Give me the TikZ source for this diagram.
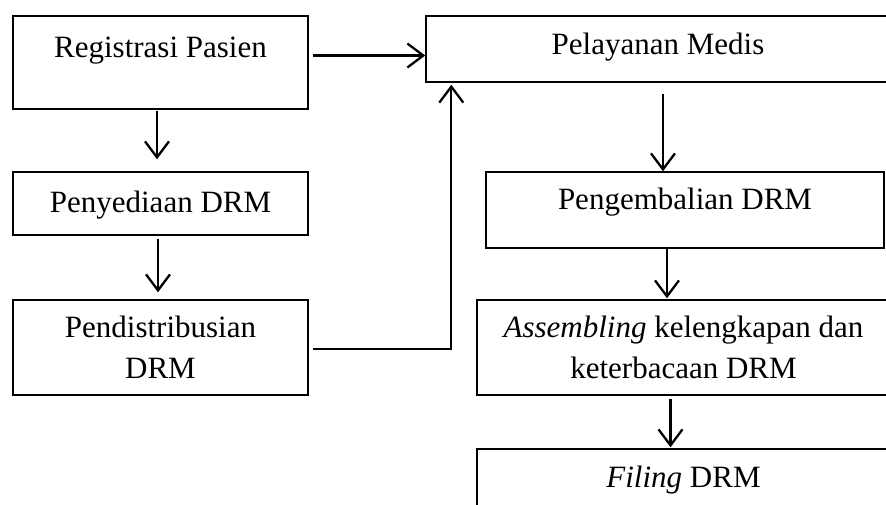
\documentclass[tikz,border=0pt]{standalone}
\usepackage{fontspec}
\setmainfont{Liberation Serif}
\usetikzlibrary{arrows.meta}
\usetikzlibrary{calc}

\tikzset{
	box/.style={draw, line width=1.4pt, align=center, inner sep=0pt},
	arr/.style={-{Straight Barb[length=16pt,width=24pt]}, line width=2.3pt},
}

\begin{document}
\begin{tikzpicture}[x=1pt, y=-1pt, font=\fontsize{31}{41}\selectfont]
	\path[use as bounding box, clip] (0,0) rectangle (886,505);
	
	% left column
	\node[box, minimum width=295, minimum height=93, text height=21, text depth=30] (reg) at (160.5,62.5) {Registrasi Pasien};
	\node[box, minimum width=295, minimum height=63, text height=22, text depth=5] (sedia) at (160.5,203.5) {Penyediaan DRM};
	\node[box, minimum width=295, minimum height=95] (dist) at (160.5,347.5) {Pendistribusian\\DRM};
	
	% right column
	\node[box, minimum width=464, minimum height=66, text height=21, text depth=9] (pel) at (658,49) {Pelayanan Medis};
	\node[box, minimum width=398, minimum height=76, text height=21, text depth=21] (kembali) at (685,210) {Pengembalian DRM};
	\node[box, minimum width=413, minimum height=95] (asm) at (683.5,347.5) {\textit{Assembling} kelengkapan dan\\keterbacaan DRM};
	\node[box, minimum width=413, minimum height=76, text height=20, text depth=20] (filing) at (683.5,487) {\textit{Filing} DRM};
	
	\draw[arr] ($(reg.east)+(4,-7)$) -- ($(reg.east -| pel.west)+(0,-7)$);
	\draw[arr] ($(reg.south)+(-3.5,1)$) -- ($(sedia.north)+(-3.5,-12)$);
	\draw[arr] ($(sedia.south)+(-2.5,3)$) -- ($(dist.north)+(-2.5,-7)$);
	\draw[arr] ($(dist.east)+(4,1.5)$) -| ($(pel.south west)+(26,2)$);
	
	\draw[arr] ($(pel.south)+(5,11)$) -- ($(pel.south |- kembali.north)+(5,0)$);
	\draw[arr] ($(kembali.south)+(-18,0)$) -- ($(kembali.south |- asm.north)+(-18,-1)$);
	\draw[arr] ($(asm.south)+(-13,3)$) -- ($(asm.south |- filing.north)+(-13,-1)$);
\end{tikzpicture}
\end{document}
